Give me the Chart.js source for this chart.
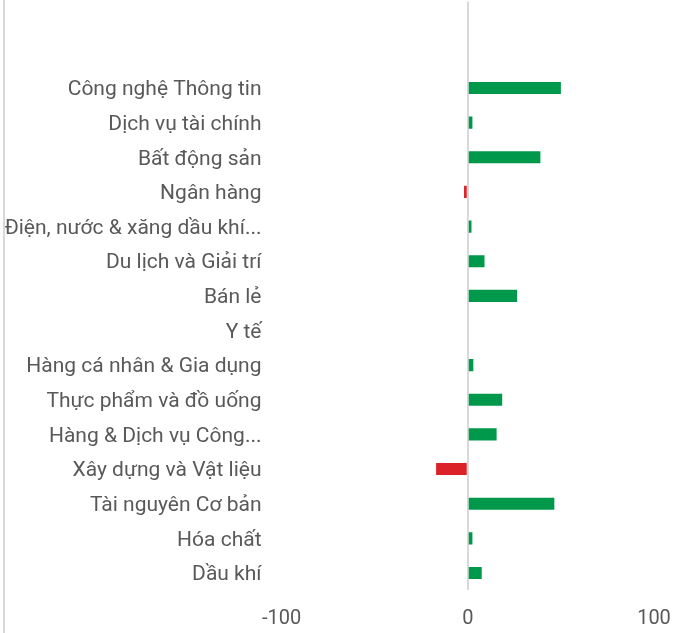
<!DOCTYPE html>
<html>
<head>
<meta charset="utf-8">
<script src="https://cdn.jsdelivr.net/npm/chart.js@4"></script>
<style>
  html, body { margin: 0; padding: 0; background: #fff; }
  #wrap { position: relative; width: 689px; height: 633px; }
  #frame { position: absolute; left: 3px; top: 0; width: 2px; height: 633px; background: #d9d9d9; }
</style>
</head>
<body>
<div id="wrap">
  <canvas id="sectorChart" width="689" height="633"></canvas>
  <div id="frame"></div>
</div>
<script>
// two blank rows sit above the first sector in the original
const sectors = [
    '', ' ',
    'Công nghệ Thông tin',
    'Dịch vụ tài chính',
    'Bất động sản',
    'Ngân hàng',
    'Điện, nước & xăng dầu khí...',
    'Du lịch và Giải trí',
    'Bán lẻ',
    'Y tế',
    'Hàng cá nhân & Gia dụng',
    'Thực phẩm và đồ uống',
    'Hàng & Dịch vụ Công...',
    'Xây dựng và Vật liệu',
    'Tài nguyên Cơ bản',
    'Hóa chất',
    'Dầu khí'
];
const values = [null, null, 50, 2.5, 39, -2, 2, 9, 26.5, 0, 3, 18.5, 15.5, -17, 46.5, 2.5, 7.5];
const xTicks = [-100, 0, 100];

const GREEN = '#00984a';
const RED = '#dc2229';

document.addEventListener('DOMContentLoaded', function () {
    new Chart(document.getElementById('sectorChart'), {
        type: 'bar',
        data: {
            labels: sectors,
            datasets: [{
                data: values,
                backgroundColor: values.map(v => (v < 0 ? RED : GREEN)),
                barPercentage: 0.7,
                categoryPercentage: 0.5,
                borderWidth: 0
            }]
        },
        options: {
            indexAxis: 'y',
            responsive: false,
            animation: false,
            layout: { padding: { top: 1.4, right: 35, bottom: 0, left: 0 } },
            plugins: {
                legend: { display: false },
                tooltip: { enabled: false }
            },
            scales: {
                x: {
                    min: -100,
                    max: 100,
                    afterBuildTicks: s => { s.ticks = xTicks.map(v => ({ value: v })); },
                    afterFit: s => { s.height = 42.7; },
                    border: { display: false },
                    grid: {
                        drawTicks: false,
                        lineWidth: 2,
                        color: c => (c.tick && c.tick.value === 0 ? '#d9d9d9' : 'rgba(0,0,0,0)')
                    },
                    ticks: {
                        padding: 17,
                        color: '#595959',
                        font: { family: 'Roboto', size: 20 }
                    }
                },
                y: {
                    afterFit: s => {
                        s.width = 281.5;
                        s.paddingTop = 0;
                        s.paddingBottom = 0;
                    },
                    border: { display: false },
                    grid: { display: false, drawTicks: false },
                    ticks: {
                        padding: 20,
                        labelOffset: 2,
                        autoSkip: false,
                        color: '#595959',
                        font: { family: 'Roboto', size: 21 }
                    }
                }
            }
        }
    });
});
</script>
</body>
</html>
